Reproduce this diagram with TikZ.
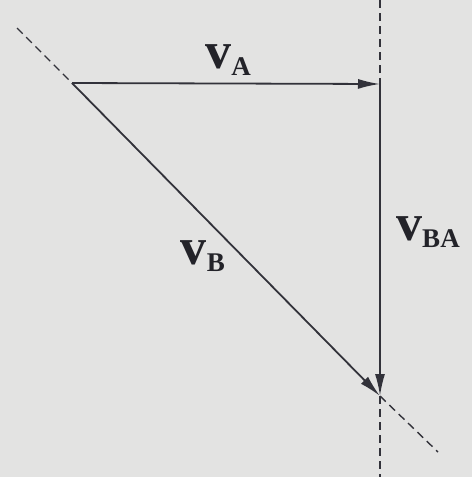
\documentclass[tikz,border=0pt]{standalone}
\usepackage{fontspec}
\setmainfont{Liberation Serif}
\usetikzlibrary{arrows.meta}
\definecolor{paper}{RGB}{227,227,226}
\definecolor{ink}{RGB}{50,50,58}
\newcommand{\velsym}[1]{{\fontsize{26}{26}\selectfont\bfseries v}\raisebox{-3.5pt}{\fontsize{13.5}{14}\selectfont\bfseries #1}}
\begin{document}
\begin{tikzpicture}[
    x=0.5pt, y=-0.5pt,
    vec_style/.style={ink, line width=0.9pt, -{Latex[length=11pt, width=5pt]}},
    guide_style/.style={ink, line width=0.7pt, dash pattern=on 4pt off 2.5pt},
    lbl_style/.style={inner sep=0pt, text=ink!70!black}
]
\fill[paper] (0,0) rectangle (472,477);
\useasboundingbox (0,0) rectangle (472,477);
% points of the triangle
\coordinate (a) at (72,83);
\coordinate (b) at (380,84);
\coordinate (c) at (380,396);
% guide lines
\coordinate (d1) at (17,28);
\coordinate (d2) at (438,452);
\coordinate (t) at (380,0);
\coordinate (u) at (380,477);
\draw[guide_style] (d1) -- (a);
\draw[guide_style] (c) -- (d2);
\draw[guide_style] (t) -- (b);
\draw[guide_style] (c) -- (u);
% vectors
\draw[vec_style] (a) -- (b);
\draw[vec_style] (a) -- (c);
\draw[vec_style] (b) -- (c);
% labels
\node[lbl_style] (la) at (228,60) {\velsym{A}};
\node[lbl_style] (lb) at (203,256) {\velsym{B}};
\node[lbl_style] (lba) at (428,232) {\velsym{BA}};
\end{tikzpicture}
\end{document}
